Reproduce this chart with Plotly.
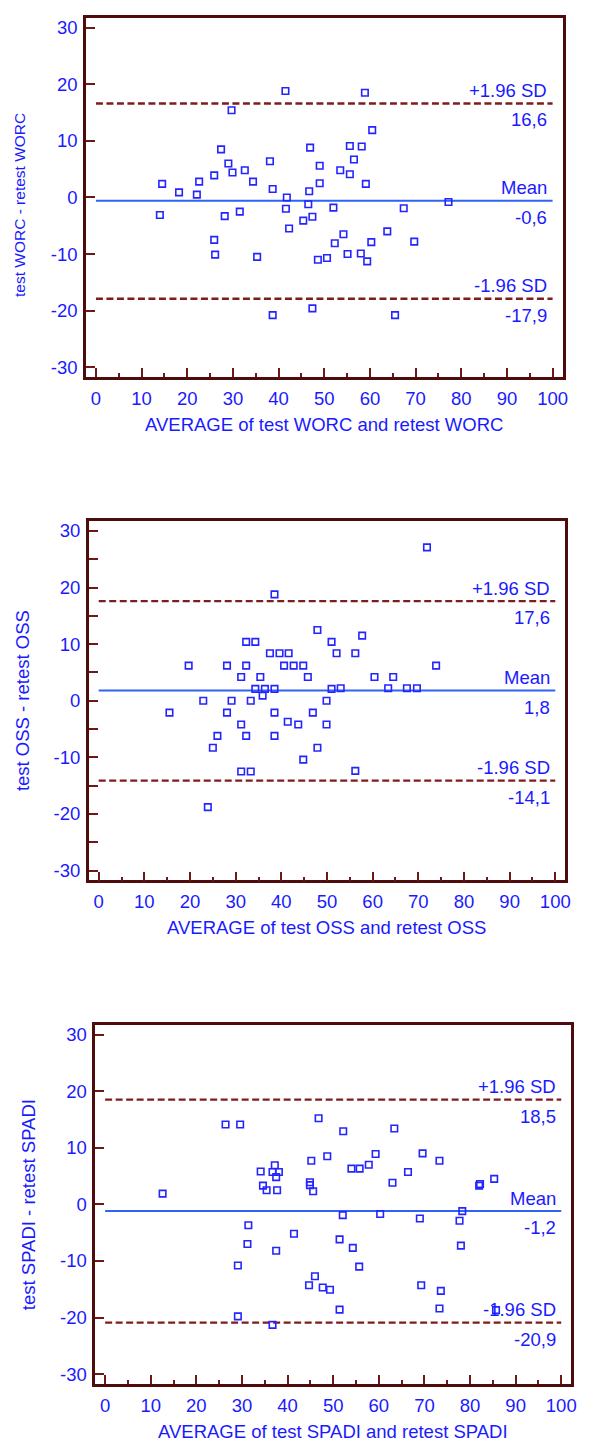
import plotly.graph_objects as go

# ---------------- data ----------------
worc_avg = [41.5, 29.7, 27.4, 46.9, 29.0, 38.1, 49.0, 29.9, 32.6, 25.9, 14.5, 22.6, 34.4, 49.0,
            18.2, 22.1, 38.7, 46.7, 41.8, 46.5, 41.6, 52.0, 14.0, 28.2, 31.5, 47.4, 45.4, 42.3,
            25.9, 52.3, 26.1, 35.3, 48.6, 50.6, 38.7, 47.4, 53.5,
            58.9, 60.5, 55.6, 58.2, 56.5, 55.6, 59.1, 67.4, 77.2, 63.8, 54.2, 60.3, 69.7, 55.1,
            58.0, 59.4, 65.5]
worc_diff = [18.8, 15.4, 8.5, 8.8, 6.0, 6.4, 5.6, 4.4, 4.8, 3.9, 2.4, 2.8, 2.8, 2.5,
             0.9, 0.5, 1.5, 1.1, 0.0, -1.2, -2.0, -1.8, -3.1, -3.3, -2.5, -3.4, -4.1, -5.5,
             -7.5, -8.1, -10.1, -10.5, -11.0, -10.7, -20.8, -19.6, 4.8,
             18.5, 11.9, 9.1, 9.0, 6.7, 4.1, 2.4, -1.9, -0.8, -6.0, -6.5, -7.9, -7.8, -10.0,
             -9.9, -11.3, -20.8]
worc_lines = [16.6, -0.6, -17.9]
worc_texts = ["16,6", "-0,6", "-17,9"]

oss_avg = [38.5, 47.9, 32.3, 34.3, 51.0, 37.5, 39.6, 41.6, 52.1, 19.7, 28.1, 32.3, 40.6, 42.7,
           44.8, 31.2, 35.4, 45.8, 34.3, 36.4, 38.5, 51.0, 35.9, 22.9, 29.1, 33.3, 49.9, 15.5,
           28.1, 38.5, 46.9, 41.4, 31.2, 43.7, 49.9, 26.0, 32.3, 38.5, 25.0, 47.9, 44.8, 31.2,
           33.3, 23.9,
           71.9, 57.7, 56.2, 73.9, 60.4, 64.5, 53.0, 63.4, 67.5, 69.7, 56.2]
oss_diff = [18.8, 12.5, 10.4, 10.4, 10.4, 8.4, 8.4, 8.4, 8.4, 6.2, 6.2, 6.2, 6.2, 6.2,
            6.2, 4.2, 4.2, 4.2, 2.1, 2.1, 2.1, 2.1, 0.9, 0.0, 0.0, 0.0, 0.0, -2.1,
            -2.1, -2.1, -2.1, -3.7, -4.2, -4.2, -4.2, -6.2, -6.2, -6.2, -8.3, -8.3, -10.4, -12.5,
            -12.5, -18.8,
            27.1, 11.5, 8.4, 6.2, 4.2, 4.2, 2.2, 2.2, 2.2, 2.2, -12.4]
oss_lines = [17.6, 1.8, -14.1]
oss_texts = ["17,6", "1,8", "-14,1"]

spadi_avg = [12.6, 26.4, 29.6, 46.8, 48.7, 45.2, 37.2, 34.1, 36.7, 38.1, 37.5, 34.6, 35.4, 37.7,
             44.9, 44.9, 45.6, 31.4, 41.4, 31.2, 37.5, 29.1, 46.0, 44.7, 47.7, 49.3, 29.1, 36.7,
             51.4, 51.4,
             52.2, 63.4, 59.3, 69.6, 73.3, 54.0, 55.8, 57.8, 66.4, 63.0, 82.0, 82.2, 85.3, 52.1,
             60.3, 69.0, 77.7, 78.3, 54.3, 78.0, 55.7, 69.3, 73.6, 73.3, 85.7]
spadi_diff = [1.9, 14.1, 14.1, 15.2, 8.5, 7.7, 6.9, 5.8, 5.7, 5.7, 4.8, 3.3, 2.5, 2.5,
              3.9, 3.4, 2.3, -3.7, -5.2, -7.0, -8.2, -10.8, -12.7, -14.3, -14.7, -15.1, -19.8, -21.3,
              -6.2, -18.6,
              12.9, 13.4, 8.9, 9.0, 7.7, 6.3, 6.3, 7.0, 5.7, 3.8, 3.3, 3.6, 4.5, -1.9,
              -1.7, -2.5, -2.9, -1.2, -7.7, -7.3, -11.0, -14.3, -15.3, -18.4, -18.7]
spadi_lines = [18.5, -1.2, -20.9]
spadi_texts = ["18,5", "-1,2", "-20,9"]

x_titles = ["AVERAGE of test WORC and retest WORC",
            "AVERAGE of test OSS and retest OSS",
            "AVERAGE of test SPADI and retest SPADI"]
y_titles = ["test WORC - retest WORC",
            "test OSS - retest OSS",
            "test SPADI - retest SPADI"]
sd_labels = ["+1.96 SD", "Mean", "-1.96 SD"]
x_ticks = [0, 10, 20, 30, 40, 50, 60, 70, 80, 90, 100]
x_tick_text = ["0", "10", "20", "30", "40", "50", "60", "70", "80", "90", "100"]
y_ticks = [-30, -20, -10, 0, 10, 20, 30]
y_tick_text = ["-30", "-20", "-10", "0", "10", "20", "30"]

# ---------------- layout helpers ----------------
OFF = 8           # default body margin of the page
W, H = 600 - 2 * OFF, 1451 - 2 * OFF
FONT = "Liberation Sans, Arial, sans-serif"
FS = 18.5
BLUE_TXT = "#1a1aff"
MARK = "#2424ff"
MEAN_C = "#2f62f5"
DASH_C = "#7d1d1d"
FRAME_C = "#4f0c0c"
TICK_C = "#6e1818"

# frames in page pixels: (left, right, top, bottom)
frames = [(86.7, 567.3, 16.7, 376.7),
          (89.5, 570.0, 520.7, 880.7),
          (96.0, 576.0, 1025.0, 1385.0)]
ytitle_size = [15.5, FS, FS]
ytitle_dy = [8, 0, 0]
XR = [-2.17, 102.17]
YR = [-31.76, 31.76]

def fx(px):
    return (px - OFF) / W

def fy(py):
    return 1 - (py - OFF) / H

panels = [(worc_avg, worc_diff, worc_lines, worc_texts),
          (oss_avg, oss_diff, oss_lines, oss_texts),
          (spadi_avg, spadi_diff, spadi_lines, spadi_texts)]

fig = go.Figure()
annotations = []
layout_axes = {}

for i, (xs, ys, lines, texts) in enumerate(panels):
    n = "" if i == 0 else str(i + 1)
    xa, ya = "x" + n, "y" + n
    L, R, T, B = frames[i]

    # reference lines
    for j, v in enumerate(lines):
        is_mean = (j == 1)
        fig.add_trace(go.Scatter(
            x=[0, 100], y=[v, v], mode="lines", xaxis=xa, yaxis=ya,
            line=dict(color=MEAN_C if is_mean else DASH_C, width=2 if is_mean else 2.3,
                      dash="solid" if is_mean else "7px,3.5px"),
            hoverinfo="skip", showlegend=False))
        annotations.append(dict(x=99.3, y=v, xref=xa, yref=ya, text=sd_labels[j],
                                showarrow=False, xanchor="right", yanchor="middle", yshift=13,
                                font=dict(family=FONT, size=FS, color=BLUE_TXT)))
        annotations.append(dict(x=99.3, y=v, xref=xa, yref=ya, text=texts[j],
                                showarrow=False, xanchor="right", yanchor="middle", yshift=-16.5,
                                font=dict(family=FONT, size=FS, color=BLUE_TXT)))

    fig.add_trace(go.Scatter(
        x=xs, y=ys, mode="markers", xaxis=xa, yaxis=ya,
        marker=dict(symbol="square-open", size=6.5, color=MARK, line=dict(width=1.6, color=MARK)),
        showlegend=False))

    common = dict(showgrid=False, zeroline=False, showline=True, mirror=True,
                  linecolor=FRAME_C, linewidth=2.5, ticks="inside", ticklen=9,
                  tickwidth=1.5, tickcolor=TICK_C,
                  tickfont=dict(family=FONT, size=FS, color=BLUE_TXT), fixedrange=True)
    layout_axes["xaxis" + n] = dict(
        common, domain=[fx(L), fx(R)], range=XR, anchor=ya,
        tickmode="array", tickvals=x_ticks, ticktext=x_tick_text,
        ticklabelstandoff=3,
        minor=dict(dtick=5, tick0=0, ticks="inside", ticklen=4, tickwidth=1.5, tickcolor=TICK_C))
    ydict = dict(common, domain=[fy(B), fy(T)], range=YR, anchor=xa,
                 tickmode="array", tickvals=y_ticks, ticktext=y_tick_text,
                 ticklabelstandoff=2)
    if i == 1:
        ydict["minor"] = dict(dtick=5, tick0=0, ticks="inside", ticklen=9, tickwidth=1.5,
                              tickcolor=TICK_C)
    layout_axes["yaxis" + n] = ydict

    # axis titles
    annotations.append(dict(x=fx((L + R) / 2), y=fy(B + 47), xref="paper", yref="paper",
                            text=x_titles[i], showarrow=False, xanchor="center", yanchor="middle",
                            font=dict(family=FONT, size=FS, color=BLUE_TXT)))
    annotations.append(dict(x=fx(L - 67), y=fy((T + B) / 2 + ytitle_dy[i]), xref="paper",
                            yref="paper", text=y_titles[i], showarrow=False, textangle=-90,
                            xanchor="center", yanchor="middle",
                            font=dict(family=FONT, size=ytitle_size[i], color=BLUE_TXT)))

fig.update_layout(
    width=W, height=H, margin=dict(l=0, r=0, t=0, b=0),
    paper_bgcolor="white", plot_bgcolor="white",
    annotations=annotations, **layout_axes)

fig.write_html("out.html", config={"displayModeBar": False})
